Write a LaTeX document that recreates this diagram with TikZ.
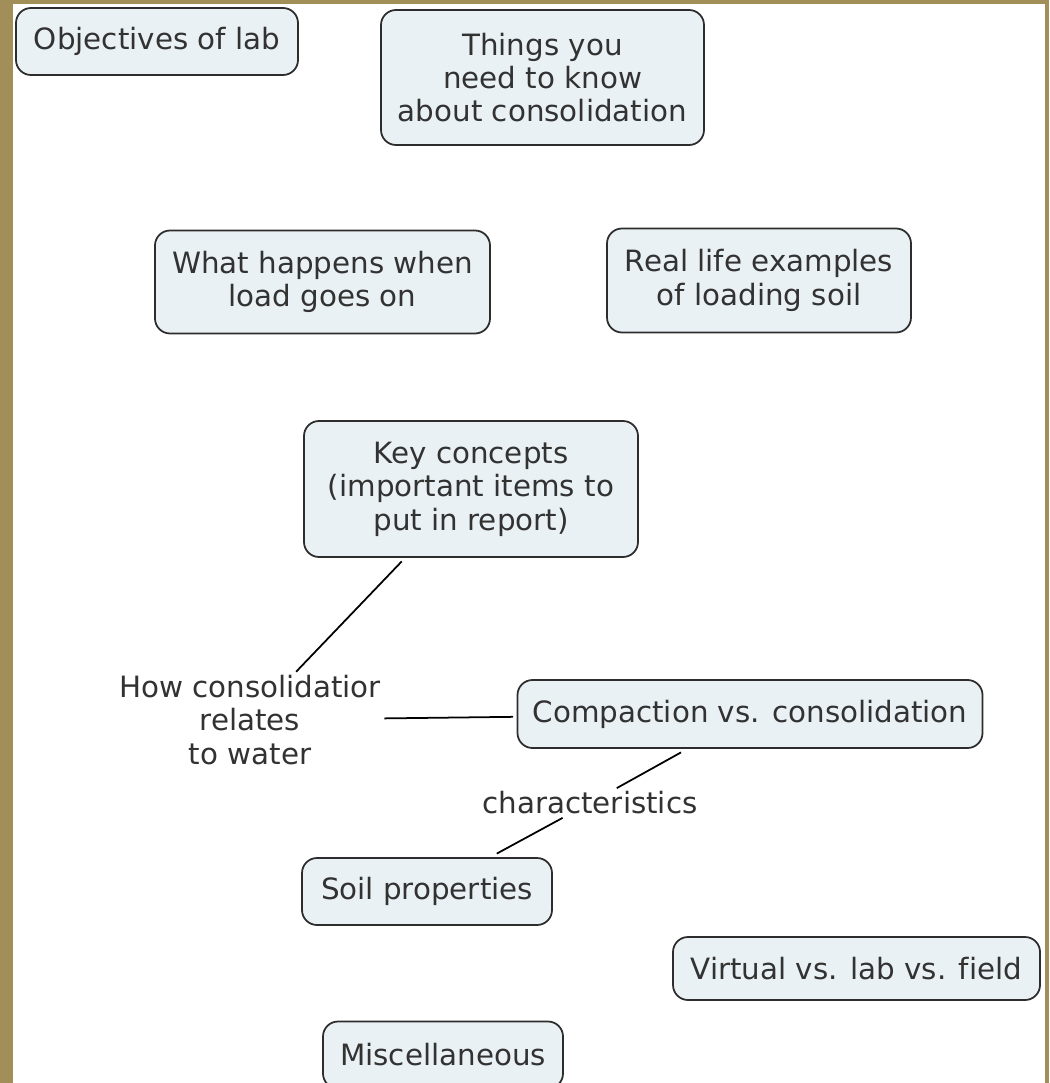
\documentclass[tikz,border=0pt]{standalone}
\usepackage{fontspec}
\setmainfont{DejaVu Sans}[Ligatures=NoCommon]
\usepackage{tikz}
\definecolor{slidetan}{RGB}{161,142,88}
\definecolor{mapfill}{RGB}{234,241,244}
\definecolor{mapline}{RGB}{45,45,45}
\definecolor{maptext}{RGB}{50,50,50}
\usetikzlibrary{positioning}
\tikzset{
every node/.style={text=maptext, align=center}, % text colour and centred lines
concept/.style={draw=mapline, fill=mapfill, rounded corners=0.3cm, outer sep=2.5pt, inner sep=4pt}, % sets the properties for each boxed concept
}
\tikzset{
  linker/.style={inner sep=2pt, outer sep=0pt}
}

\begin{document}
\begin{tikzpicture}[line width=1pt, font=\fontsize{16.7}{19}\selectfont]
      \useasboundingbox (0,0) rectangle (20.98,-21.66);
      \clip (0,0) rectangle (20.98,-21.66);
      \fill[slidetan] (0,0) rectangle (20.98,-21.66);
      \fill[white] (0.26,-0.08) rectangle (20.9,-21.8);

      \node[concept, minimum width=5.64cm, minimum height=1.34cm] (obj) at (3.14,-0.83) {Objectives of lab};
      \node[concept, minimum width=6.46cm, minimum height=2.7cm, node distance=7.71cm, right of=obj, yshift=-0.72cm] (know) {Things you\\need to know\\about consolidation};
      \node[concept, minimum width=6.7cm, minimum height=2.06cm, node distance=4.81cm, below of=obj, xshift=3.31cm] (load) {What happens when\\load goes on};
      \node[concept, minimum width=6.08cm, minimum height=2.08cm, node distance=8.73cm, right of=load, yshift=0.03cm] (real) {Real life examples\\of loading soil};
      \node[concept, minimum width=6.68cm, minimum height=2.72cm, node distance=4.14cm, below of=load, xshift=2.97cm] (key) {Key concepts\\(important items to\\put in report)};
      \node[linker, node distance=4.62cm, below of=key, xshift=-4.42cm] (water) {How consolidatior\\relates\\to water};
      \node[concept, minimum width=9.3cm, minimum height=1.36cm, node distance=10cm, right of=water, yshift=0.12cm] (comp) {Compaction vs. consolidation};
      \node[linker, node distance=1.78cm, below of=comp, xshift=-3.2cm] (char) {characteristics};
      \node[concept, minimum width=5cm, minimum height=1.34cm, node distance=1.77cm, below of=char, xshift=-3.26cm] (soil) {Soil properties};
      \node[concept, minimum width=7.34cm, minimum height=1.26cm, node distance=5.09cm, below of=comp, xshift=2.13cm] (virt) {Virtual vs. lab vs. field};
      \node[concept, minimum width=4.8cm, minimum height=1.34cm, node distance=3.27cm, below of=soil, xshift=0.32cm] (misc) {Miscellaneous};

      \draw (key) edge (water)
      (water) edge (comp)
      (comp) edge (char)
      (char) edge (soil);
    \end{tikzpicture}
\end{document}
